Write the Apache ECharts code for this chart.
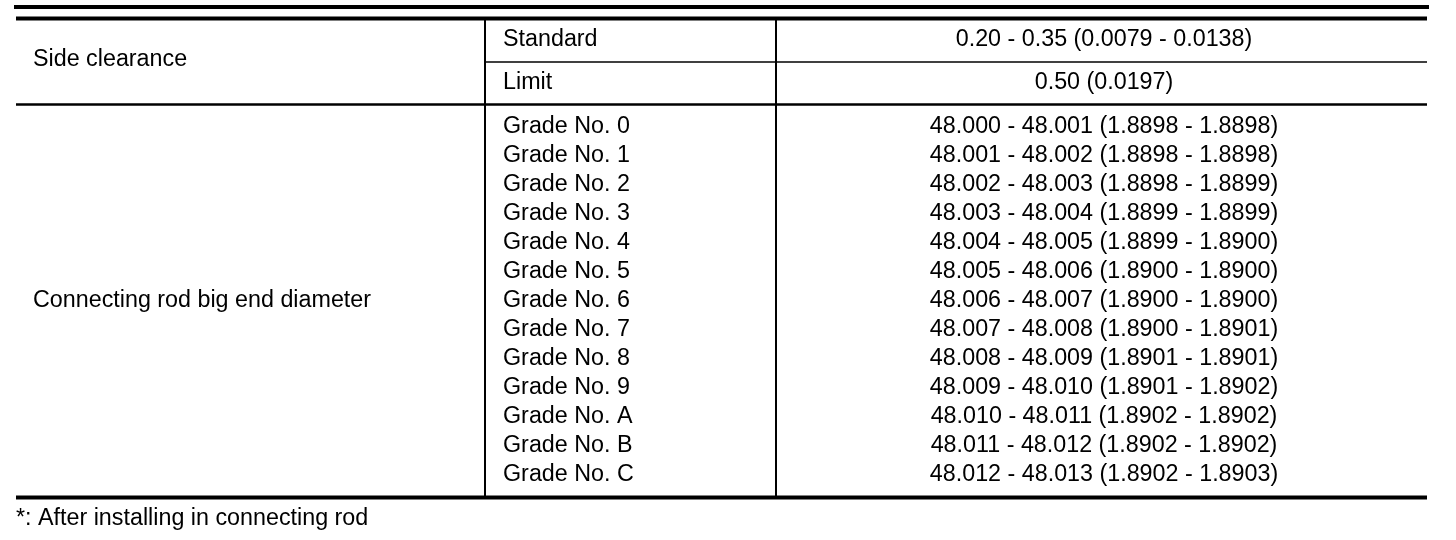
<!DOCTYPE html>
<html>
<head>
<meta charset="utf-8">
<script src="https://cdn.jsdelivr.net/npm/echarts@6/dist/echarts.min.js"></script>
<style>
html,body{margin:0;padding:0;background:#fff;}
#c{width:1456px;height:540px;}
</style>
</head>
<body>
<div id="c"></div>
<script>
// ---- table content ----
var sideClearanceLabel = 'Side clearance';
var sideClearanceRows = ['Standard', 'Limit'];
var sideClearanceValues = ['0.20 - 0.35 (0.0079 - 0.0138)', '0.50 (0.0197)'];
var bigEndLabel = 'Connecting rod big end diameter';
var gradeCodes = ['0','1','2','3','4','5','6','7','8','9','A','B','C'];
var gradeMm = ['48.000 - 48.001','48.001 - 48.002','48.002 - 48.003','48.003 - 48.004','48.004 - 48.005',
  '48.005 - 48.006','48.006 - 48.007','48.007 - 48.008','48.008 - 48.009','48.009 - 48.010',
  '48.010 - 48.011','48.011 - 48.012','48.012 - 48.013'];
var gradeIn = ['1.8898 - 1.8898','1.8898 - 1.8898','1.8898 - 1.8899','1.8899 - 1.8899','1.8899 - 1.8900',
  '1.8900 - 1.8900','1.8900 - 1.8900','1.8900 - 1.8901','1.8901 - 1.8901','1.8901 - 1.8902',
  '1.8902 - 1.8902','1.8902 - 1.8902','1.8902 - 1.8903'];
var footnote = '*: After installing in connecting rod';

// ---- layout (table geometry in page units) ----
var W = 1456, H = 540;
var L = 16, R = 1427;
var col1 = 485, col2 = 776;
var valueCenter = 1104;
var rowStdY = 39.5, rowLimY = 83, sideY = 60;
var gradeY0 = 127, gradePitch = 29;
var footY = 519;
var fontSize = 23.3;
var fontFamily = '"Liberation Sans", Arial, Helvetica, sans-serif';

// build text items
var texts = [];
texts.push({x: 33, y: sideY, t: sideClearanceLabel, a: 'left'});
sideClearanceRows.forEach(function (s, i) {
  var y = i === 0 ? rowStdY : rowLimY;
  texts.push({x: 503, y: y, t: s, a: 'left'});
  texts.push({x: valueCenter, y: y, t: sideClearanceValues[i], a: 'center'});
});
var gradeMid = gradeY0 + gradePitch * (gradeCodes.length - 1) / 2;
texts.push({x: 33, y: gradeMid, t: bigEndLabel, a: 'left'});
gradeCodes.forEach(function (g, i) {
  var y = gradeY0 + gradePitch * i;
  texts.push({x: 503, y: y, t: 'Grade No. ' + g, a: 'left'});
  texts.push({x: valueCenter, y: y, t: gradeMm[i] + ' (' + gradeIn[i] + ')', a: 'center'});
});
texts.push({x: 16, y: footY, t: footnote, a: 'left'});

// build rule lines [x1,y1,x2,y2,width]
var rules = [
  [14, 7, 1429, 7, 4],
  [16, 18.5, R, 18.5, 4],
  [col1, 62, R, 62, 1.5],
  [L, 104.5, R, 104.5, 2.5],
  [L, 497.5, R, 497.5, 4],
  [col1, 20, col1, 496, 2],
  [col2, 20, col2, 496, 2]
];

var chart = echarts.init(document.getElementById('c'), null, {renderer: 'canvas'});
chart.setOption({
  animation: false,
  backgroundColor: '#ffffff',
  grid: {left: 0, right: 0, top: 0, bottom: 0},
  xAxis: {type: 'value', min: 0, max: W, show: false},
  yAxis: {type: 'value', min: 0, max: H, inverse: true, show: false},
  series: [
    {
      type: 'custom',
      coordinateSystem: 'cartesian2d',
      data: rules.map(function (r) { return [r[0], r[1], r[2], r[3], r[4]]; }),
      renderItem: function (params, api) {
        var p1 = api.coord([api.value(0), api.value(1)]);
        var p2 = api.coord([api.value(2), api.value(3)]);
        return {
          type: 'line',
          shape: {x1: p1[0], y1: p1[1], x2: p2[0], y2: p2[1]},
          style: {stroke: '#000', lineWidth: api.value(4)}
        };
      },
      silent: true
    },
    {
      type: 'custom',
      coordinateSystem: 'cartesian2d',
      data: texts.map(function (t) { return [t.x, t.y]; }),
      renderItem: function (params, api) {
        var t = texts[params.dataIndex];
        var p = api.coord([api.value(0), api.value(1)]);
        return {
          type: 'text',
          x: p[0], y: p[1],
          style: {
            text: t.t,
            fill: '#000',
            font: fontSize + 'px ' + fontFamily,
            align: t.a,
            verticalAlign: 'middle'
          }
        };
      },
      silent: true
    }
  ]
});
</script>
</body>
</html>
